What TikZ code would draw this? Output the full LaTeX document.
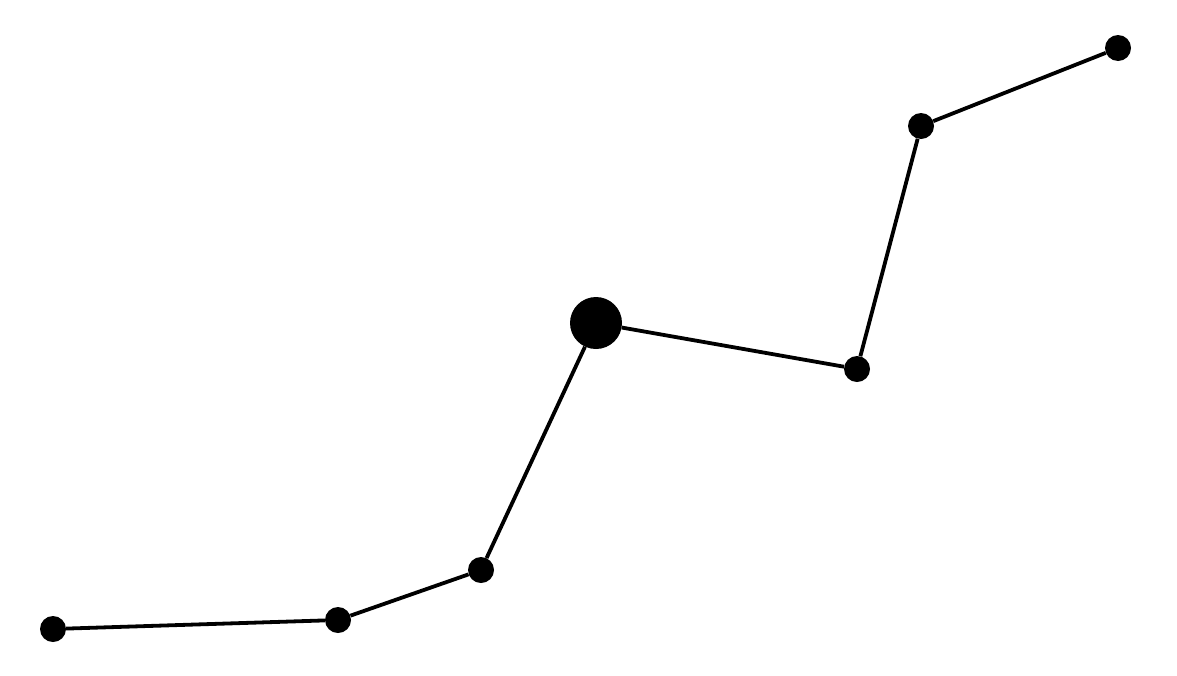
\documentclass[tikz,border=0pt]{standalone}
\begin{document}
\begin{tikzpicture}[x=1pt,y=-1pt,
  dot/.style={circle,fill=black,inner sep=0pt,minimum size=26pt},
  bigdot/.style={circle,fill=black,inner sep=0pt,minimum size=52pt},
  link/.style={line width=3.8pt}]
\fill[white] (0,0) rectangle (1177,675);
\useasboundingbox (0,0) rectangle (1177,675);
\node[dot] (a) at (53,629) {};
\node[dot] (b) at (338,620) {};
\node[dot] (c) at (481,570) {};
\node[bigdot] (d) at (596,323) {};
\node[dot] (e) at (857,369) {};
\node[dot] (f) at (921,126) {};
\node[dot] (g) at (1118,48) {};
\draw[link] (a) -- (b) -- (c) -- (d) -- (e) -- (f) -- (g);
\end{tikzpicture}
\end{document}
